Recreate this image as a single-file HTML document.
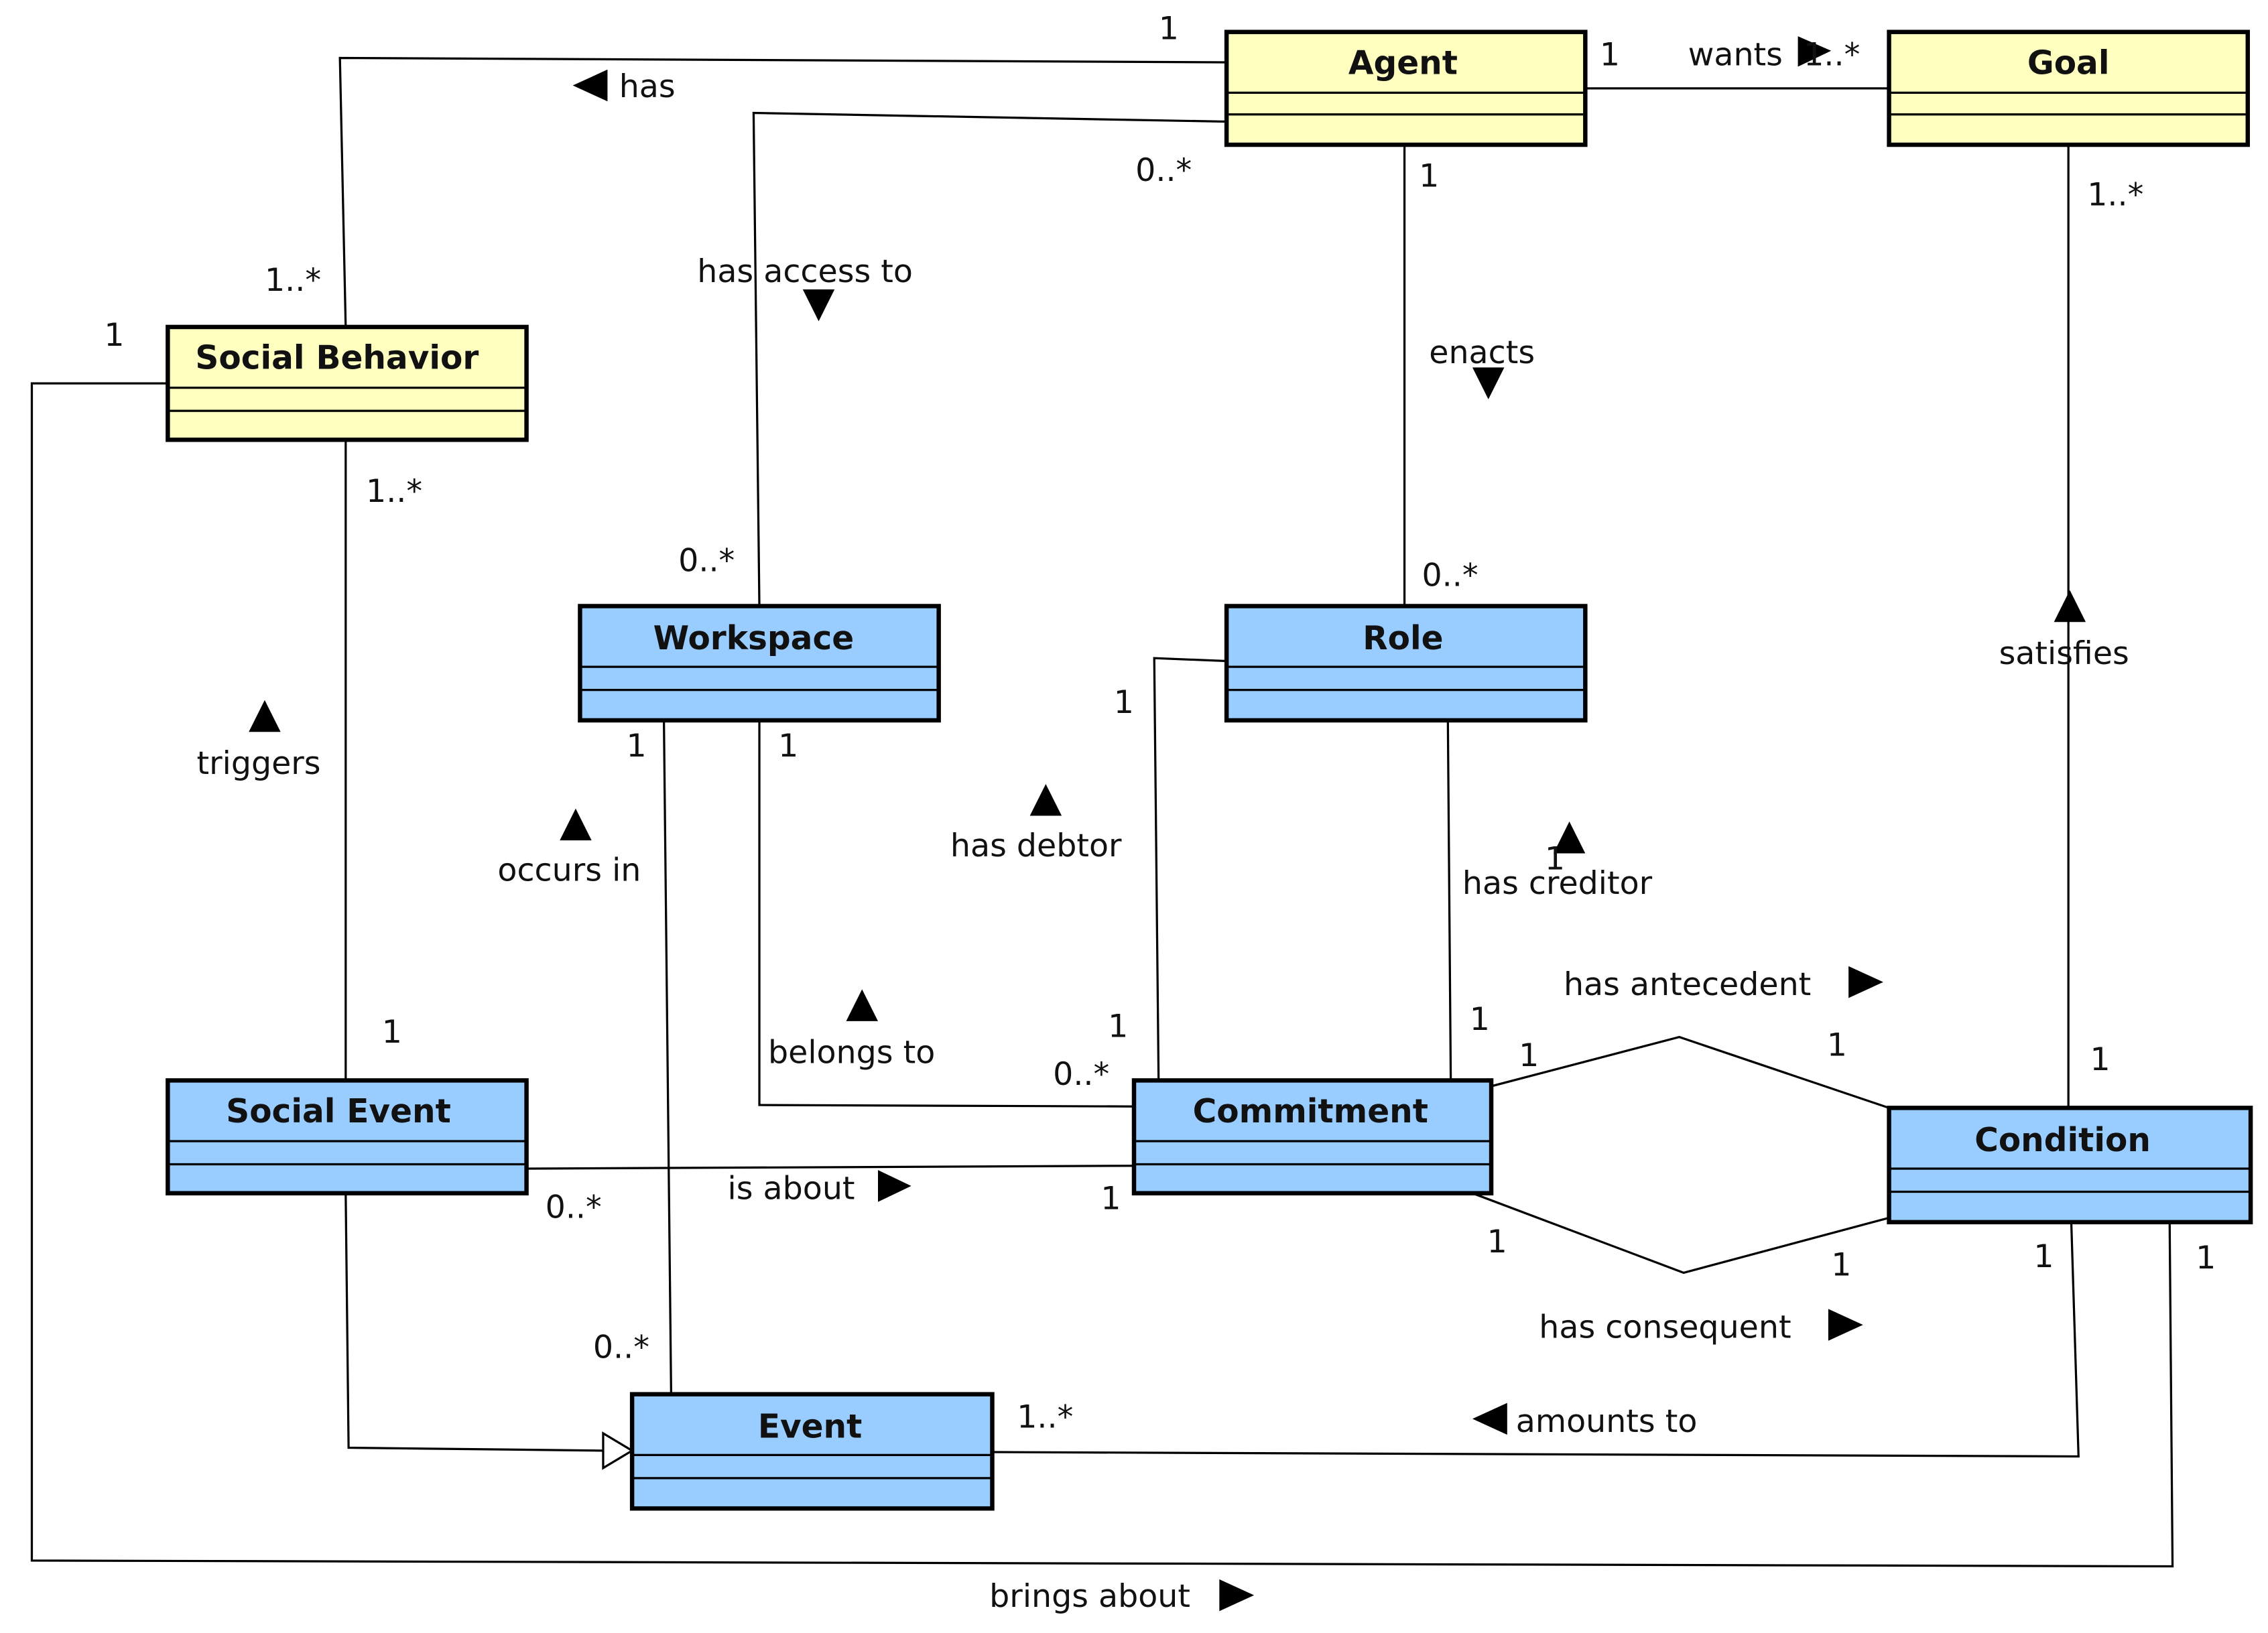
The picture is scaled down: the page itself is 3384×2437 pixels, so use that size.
<!DOCTYPE html>
<html><head><meta charset="utf-8"><style>html,body{margin:0;padding:0;background:#fff}svg{display:block}</style></head><body>
<svg xmlns="http://www.w3.org/2000/svg" width="3384" height="2437" viewBox="0 0 1568 1129">
<rect width="1568" height="1129" fill="#fff"/>
<g fill="none" stroke="#000" stroke-width="1.5">
<polyline points="848,43 235,40 239,226"/>
<polyline points="848,84 521,78 525,419"/>
<line x1="1096" y1="61" x2="1306" y2="61"/>
<line x1="971" y1="100" x2="971" y2="419"/>
<line x1="1430" y1="100" x2="1430" y2="766"/>
<line x1="239" y1="304" x2="239" y2="747"/>
<line x1="459" y1="498" x2="464" y2="964"/>
<polyline points="525,498 525,764 784,765"/>
<polyline points="848,457 798,455 801,747"/>
<line x1="1001" y1="498" x2="1003" y2="747"/>
<polyline points="1031,751 1161,717 1306,766"/>
<polyline points="1018,825 1164,880 1306,842"/>
<line x1="364" y1="808" x2="784" y2="806"/>
<polyline points="239,825 241,1001 417,1003"/>
<polyline points="686,1004 1437,1007 1432,845"/>
<polyline points="116,265 22,265 22,1079 1502,1083 1500,845"/>
</g>
<polygon points="417,991 437,1003 417,1015" fill="#fff" stroke="#000" stroke-width="1.5"/>
<g fill="#000">
<polygon points="396,59 420,48 420,70"/>
<polygon points="555,200 577,200 566,222"/>
<polygon points="1243,25 1266,35 1243,46"/>
<polygon points="1018,254 1040,254 1029,276"/>
<polygon points="1420,430 1442,430 1431,408"/>
<polygon points="172,506 194,506 183,484"/>
<polygon points="387,581 409,581 398,559"/>
<polygon points="585,706 607,706 596,684"/>
<polygon points="712,564 734,564 723,542"/>
<polygon points="1074,590 1096,590 1085,568"/>
<polygon points="1278,668 1302,679 1278,690"/>
<polygon points="1264,905 1288,916 1264,927"/>
<polygon points="607,809 630,820 607,831"/>
<polygon points="1042,970 1018,981 1042,992"/>
<polygon points="843,1092 867,1103 843,1114"/>
</g>
<g font-family="DejaVu Sans, Liberation Sans, sans-serif" font-size="22" fill="#111">
<text x="428" y="67">has</text>
<text x="482" y="195">has access to</text>
<text x="1167" y="45">wants</text>
<text x="988" y="251">enacts</text>
<text x="1382" y="459">satisfies</text>
<text x="136" y="535">triggers</text>
<text x="344" y="609">occurs in</text>
<text x="531" y="735">belongs to</text>
<text x="657" y="592">has debtor</text>
<text x="1011" y="618">has creditor</text>
<text x="1081" y="688">has antecedent</text>
<text x="1064" y="925">has consequent</text>
<text x="503" y="829">is about</text>
<text x="1048" y="990">amounts to</text>
<text x="684" y="1111">brings about</text>
<text x="801" y="27">1</text>
<text x="183" y="201">1..*</text>
<text x="785" y="125">0..*</text>
<text x="469" y="395">0..*</text>
<text x="1106" y="45">1</text>
<text x="1247" y="45">1..*</text>
<text x="981" y="129">1</text>
<text x="983" y="405">0..*</text>
<text x="1443" y="142">1..*</text>
<text x="1445" y="740">1</text>
<text x="253" y="347">1..*</text>
<text x="264" y="721">1</text>
<text x="433" y="523">1</text>
<text x="410" y="939">0..*</text>
<text x="538" y="523">1</text>
<text x="728" y="750">0..*</text>
<text x="770" y="493">1</text>
<text x="766" y="717">1</text>
<text x="1068" y="601">1</text>
<text x="1016" y="712">1</text>
<text x="1050" y="737">1</text>
<text x="1263" y="730">1</text>
<text x="1028" y="866">1</text>
<text x="1266" y="882">1</text>
<text x="377" y="842">0..*</text>
<text x="761" y="836">1</text>
<text x="703" y="987">1..*</text>
<text x="1406" y="876">1</text>
<text x="72" y="239">1</text>
<text x="1518" y="877">1</text>
</g>
<g stroke="#000" stroke-width="3">
<g fill="#ffffc0">
<rect x="848" y="22" width="248" height="78"/>
<rect x="1306" y="22" width="248" height="78"/>
<rect x="116" y="226" width="248" height="78"/>
</g>
<g fill="#99ccff">
<rect x="401" y="419" width="248" height="79"/>
<rect x="848" y="419" width="248" height="79"/>
<rect x="116" y="747" width="248" height="78"/>
<rect x="784" y="747" width="247" height="78"/>
<rect x="1306" y="766" width="250" height="79"/>
<rect x="437" y="964" width="249" height="79"/>
</g>
</g>
<g stroke="#000" stroke-width="1.5">
<line x1="848" y1="64" x2="1096" y2="64"/><line x1="848" y1="79" x2="1096" y2="79"/>
<line x1="1306" y1="64" x2="1554" y2="64"/><line x1="1306" y1="79" x2="1554" y2="79"/>
<line x1="116" y1="268" x2="364" y2="268"/><line x1="116" y1="284" x2="364" y2="284"/>
<line x1="401" y1="461" x2="649" y2="461"/><line x1="401" y1="477" x2="649" y2="477"/>
<line x1="848" y1="461" x2="1096" y2="461"/><line x1="848" y1="477" x2="1096" y2="477"/>
<line x1="116" y1="789" x2="364" y2="789"/><line x1="116" y1="805" x2="364" y2="805"/>
<line x1="784" y1="789" x2="1031" y2="789"/><line x1="784" y1="805" x2="1031" y2="805"/>
<line x1="1306" y1="808" x2="1556" y2="808"/><line x1="1306" y1="824" x2="1556" y2="824"/>
<line x1="437" y1="1006" x2="686" y2="1006"/><line x1="437" y1="1022" x2="686" y2="1022"/>
</g>
<g font-family="DejaVu Sans, Liberation Sans, sans-serif" font-size="22.5" font-weight="bold" fill="#111" text-anchor="middle">
<text x="970" y="51">Agent</text>
<text x="1430" y="51">Goal</text>
<text x="233" y="255">Social Behavior</text>
<text x="521" y="449">Workspace</text>
<text x="970" y="449">Role</text>
<text x="234" y="776">Social Event</text>
<text x="906" y="776">Commitment</text>
<text x="1426" y="796">Condition</text>
<text x="560" y="994">Event</text>
</g>
</svg>
</body></html>
